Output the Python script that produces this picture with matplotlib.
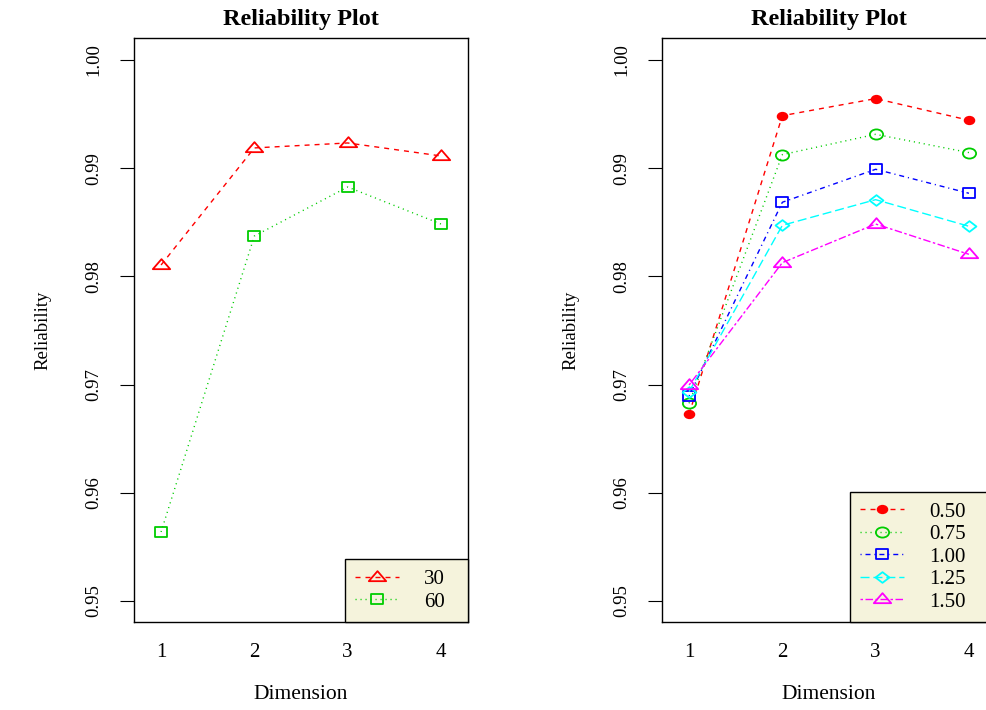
import numpy as np
import matplotlib
matplotlib.use('Agg')
import matplotlib.pyplot as plt
from matplotlib.path import Path

plt.rcParams['font.family'] = ['Liberation Serif', 'DejaVu Serif']

# data
dims = [1, 2, 3, 4]

left_labels = ['30', '60']
rel_30 = [0.98105, 0.99187, 0.99233, 0.99113]
rel_60 = [0.95638, 0.98373, 0.98826, 0.98484]

right_labels = ['0.50', '0.75', '1.00', '1.25', '1.50']
rel_050 = [0.96726, 0.99485, 0.99643, 0.99443]
rel_075 = [0.96827, 0.99125, 0.99313, 0.99144]
rel_100 = [0.96895, 0.98685, 0.98990, 0.98768]
rel_125 = [0.96935, 0.98472, 0.98709, 0.98463]
rel_150 = [0.96996, 0.98127, 0.98484, 0.98204]

yticks = [0.95, 0.96, 0.97, 0.98, 0.99, 1.00]

# slightly widened markers (the reference is stretched horizontally)
sx = 1.3
tri = Path([(-sx, -0.55), (sx, -0.55), (0, 0.95), (-sx, -0.55)], closed=True)
sq = Path([(-sx, -1), (sx, -1), (sx, 1), (-sx, 1), (-sx, -1)], closed=True)
circ_v = Path.unit_circle().vertices * [sx, 1.0]
circ = Path(circ_v, Path.unit_circle().codes)
diam = Path([(0, -1), (sx, 0), (0, 1), (-sx, 0), (0, -1)], closed=True)

lty = {
    'dashed': (0, (3.6, 3.6)),
    'dotted': (0, (0.8, 2.8)),
    'dotdash': (0, (0.8, 2.8, 3.6, 2.8)),
    'longdash': (0, (6.5, 2.8)),
    'twodash': (0, (1.8, 1.8, 5.4, 1.8)),
}

beige = '#f5f3dc'

fig = plt.figure(figsize=(9.86, 7.10), dpi=100)
W, H = 986, 710


def panel(x0):
    ax = fig.add_axes([x0 / W, 1 - 622 / H, 334 / W, 584 / H])
    ax.set_xlim(0.71, 4.29)
    ax.set_ylim(0.94806, 1.00203)
    ax.set_xticks(dims)
    ax.set_xticklabels([str(d) for d in dims], fontsize=15)
    ax.tick_params(axis='x', length=0, pad=15)
    ax.set_yticks(yticks)
    ax.set_yticklabels(['%.2f' % t for t in yticks], fontsize=13.5,
                       rotation=90, va='center')
    ax.tick_params(axis='y', length=10, pad=13, width=0.8)
    for s in ax.spines.values():
        s.set_linewidth(1.0)
    ax.set_title('Reliability Plot', fontsize=17.5, fontweight='bold', pad=9)
    ax.set_xlabel('Dimension', fontsize=15.5, labelpad=17)
    ax.set_ylabel('Reliability', fontsize=13.5, labelpad=24)
    return ax


def series(ax, y, color, style, marker, ms, filled=False, label=None):
    ax.plot(dims, y, color=color, linestyle=lty[style], lw=1.0,
            marker=marker, markersize=ms, markeredgewidth=1.3,
            markerfacecolor=color if filled else 'none',
            markeredgecolor=color, label=label, clip_on=False)


def legend(ax, x0, x1):
    # box spans x0..x1 (pixels), sitting on the bottom of the panel
    leg = ax.legend(loc='lower left', mode='expand',
                    bbox_to_anchor=(x0 / W, 1 - 622 / H, (x1 - x0) / W, 0.1),
                    bbox_transform=fig.transFigure, borderaxespad=0,
                    fancybox=False, frameon=True, fontsize=15,
                    handlelength=2.1, handletextpad=1.2, labelspacing=0.14,
                    borderpad=0.5, numpoints=1)
    fr = leg.get_frame()
    fr.set_facecolor(beige)
    fr.set_edgecolor('black')
    fr.set_linewidth(1.0)
    fr.set_alpha(1)
    return leg


ax1 = panel(134)
series(ax1, rel_30, 'red', 'dashed', tri, 12.5, label=left_labels[0])
series(ax1, rel_60, '#00cd00', 'dotted', sq, 8.5, label=left_labels[1])
legend(ax1, 345, 468)

ax2 = panel(662)
series(ax2, rel_050, 'red', 'dashed', circ, 7, filled=True, label=right_labels[0])
series(ax2, rel_075, '#00cd00', 'dotted', circ, 9.5, label=right_labels[1])
series(ax2, rel_100, 'blue', 'dotdash', sq, 8.5, label=right_labels[2])
series(ax2, rel_125, 'cyan', 'longdash', diam, 10, label=right_labels[3])
series(ax2, rel_150, 'magenta', 'twodash', tri, 12.5, label=right_labels[4])
legend(ax2, 850, 995)

fig.savefig('out.png', dpi=100)
